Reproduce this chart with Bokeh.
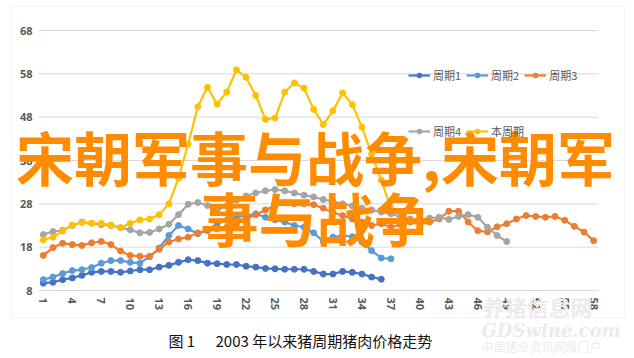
import math
from bokeh.plotting import figure
from bokeh.models import Range1d, FixedTicker, Legend, LegendItem, Label, BoxAnnotation
from bokeh.core.properties import value
from bokeh.embed import file_html
from bokeh.resources import INLINE

# ---------------- data ----------------
cats = list(range(1, 59))
x_ticks = list(range(1, 59, 3))
x_tick_labels = [str(t) for t in x_ticks]
y_ticks = [8, 18, 28, 38, 48, 58, 68]
names = ["周期1", "周期2", "周期3", "周期4", "本周期"]
colors = ["#4472C4", "#5B9BD5", "#ED7D31", "#A5A5A5", "#FFC000"]

cycle1 = [9.7, 9.9, 10.5, 10.9, 11.5, 12.2, 12.4, 12.4, 12.2, 12.5, 12.8, 12.8,
          13.4, 13.8, 14.5, 15.1, 14.9, 14.3, 14.2, 14.0, 14.0, 13.6, 13.4, 13.1,
          13.0, 12.9, 12.9, 12.9, 12.4, 11.8, 11.8, 12.4, 12.2, 11.8, 11.1, 10.6]
cycle2 = [10.5, 11.1, 11.9, 12.6, 12.8, 13.3, 14.3, 14.9, 14.9, 14.5, 14.3, 15.8,
          17.8, 20.7, 23.0, 22.2, 21.1, 21.8, 23.4, 24.2, 24.9, 25.3, 25.7, 24.9,
          24.3, 23.8, 23.0, 22.6, 21.3, 19.3, 20.3, 20.7, 20.4, 19.2, 17.2, 15.5, 15.3]
cycle3 = [16.1, 17.9, 18.9, 18.6, 18.4, 19.0, 19.3, 18.6, 17.1, 16.1, 15.9, 15.9,
          17.5, 19.2, 19.9, 20.3, 21.3, 21.9, 22.2, 22.6, 23.4, 24.5, 25.5, 26.6,
          27.6, 28.2, 28.0, 28.0, 27.8, 27.0, 26.0, 25.3, 24.5, 23.8, 23.0, 23.4,
          22.6, 23.2, 23.8, 23.8, 23.8, 24.5, 26.3, 26.3, 23.8, 21.8, 21.5, 22.7,
          23.4, 24.5, 25.3, 25.1, 24.9, 25.1, 24.2, 22.8, 21.5, 19.5]
cycle4 = [20.9, 21.6, 21.9, 23.0, 23.8, 23.5, 23.2, 23.0, 22.5, 22.0, 21.3, 21.4,
          22.2, 23.3, 25.5, 27.9, 28.3, 27.6, 26.5, 27.5, 28.8, 29.8, 30.5, 31.0,
          31.3, 31.0, 30.5, 30.0, 29.6, 29.0, 28.5, 28.0, 27.5, 27.0, 26.6, 26.1,
          25.7, 25.0, 24.5, 24.3, 24.7, 24.9, 24.4, 25.1, 25.5, 24.9, 22.6, 20.7, 19.3]
current = [19.7, 20.3, 21.7, 23.1, 23.7, 23.5, 23.5, 23.1, 22.5, 23.5, 24.3, 24.5,
           25.5, 28.0, 33.9, 41.8, 50.4, 54.9, 51.0, 53.8, 58.9, 57.2, 53.0, 47.5,
           47.8, 53.8, 55.9, 54.7, 49.8, 46.3, 49.5, 53.6, 50.9, 45.7, 39.5, 33.5, 27.0]
series = [cycle1, cycle2, cycle3, cycle4, current]

caption_fig = "图 1"
caption_text = "2003 年以来猪周期猪肉价格走势"
overlay_1 = "宋朝军事与战争,宋朝军"
overlay_2 = "事与战争"
watermark = ["养猪信息网", "GDSwine.com", "中国猪业资讯网络门户"]

# ---------------- geometry (pixels) ----------------
W, H = 632, 356
plot_left, plot_right = 38, 598      # category band edges
plot_top, plot_bottom = 30, 290      # y = 68 / y = 8
x_lo, x_hi = cats[0] - 0.5, cats[-1] + 0.5
y_lo, y_hi = y_ticks[0], y_ticks[-1]
kx = (plot_right - plot_left) / (x_hi - x_lo)
ky = (plot_bottom - plot_top) / (y_hi - y_lo)
x_range = Range1d(x_lo - plot_left / kx, x_hi + (W - plot_right) / kx)
y_range = Range1d(y_lo - (H - plot_bottom) / ky, y_hi + plot_top / ky)

p = figure(width=W, height=H, x_range=x_range, y_range=y_range,
           output_backend="svg", toolbar_location=None,
           min_border=0, min_border_left=0, min_border_right=0,
           min_border_top=0, min_border_bottom=0)
p.outline_line_color = None
p.background_fill_color = "white"
p.border_fill_color = "white"
p.grid.grid_line_color = None

# axes placed at fixed data locations
p.xaxis.fixed_location = y_lo
p.xaxis.bounds = (x_lo, x_hi)
p.xaxis.ticker = FixedTicker(ticks=x_ticks)
p.xaxis.axis_line_color = "#D9D9D9"
p.xaxis.major_tick_line_color = None
p.xaxis.minor_tick_line_color = None
p.xaxis.major_tick_in = 0
p.xaxis.major_tick_out = 0
p.xaxis.major_label_text_color = None   # rotated labels drawn below

p.yaxis.fixed_location = x_lo
p.yaxis.bounds = (y_lo, y_hi)
p.yaxis.ticker = FixedTicker(ticks=y_ticks)
p.yaxis.axis_line_color = None
p.yaxis.major_tick_line_color = None
p.yaxis.minor_tick_line_color = None
p.yaxis.major_tick_in = 0
p.yaxis.major_tick_out = 0
p.yaxis.major_label_standoff = 6
p.yaxis.major_label_text_font = "Open Sans"
p.yaxis.major_label_text_font_size = "11px"
p.yaxis.major_label_text_font_style = "bold"
p.yaxis.major_label_text_color = "#595959"

# rotated category labels (read top to bottom)
p.text(x=x_ticks, y=[y_lo] * len(x_ticks), text=x_tick_labels,
       angle=-math.pi / 2, y_offset=7, text_align="left", text_baseline="middle",
       text_font=value("Open Sans"), text_font_size="11px", text_font_style="bold",
       text_color="#595959")

# horizontal gridlines across the category band
grid_y = y_ticks[1:]
p.segment(x0=[x_lo] * len(grid_y), x1=[x_hi] * len(grid_y), y0=grid_y, y1=grid_y,
          line_color="#D9D9D9", line_width=1)

# outer chart border (screen px from bottom-left)
p.add_layout(BoxAnnotation(left=11, right=624, bottom=H - 317, top=H - 6,
                           left_units="screen", right_units="screen",
                           bottom_units="screen", top_units="screen",
                           fill_alpha=0, line_color="#D9D9D9", line_width=1))

# series
items = []
for name, col, vals in zip(names, colors, series):
    xs = cats[:len(vals)]
    rl = p.line(xs, vals, line_color=col, line_width=2.2)
    rs = p.scatter(xs, vals, size=6, fill_color=col, line_color=col)
    items.append(LegendItem(label=name, renderers=[rl, rs]))

def make_legend(its, loc):
    return Legend(items=its, location=loc, orientation="horizontal",
                  background_fill_alpha=0, border_line_color=None,
                  padding=0, margin=0, spacing=5, glyph_width=22, glyph_height=12,
                  label_standoff=3, label_height=12,
                  label_text_font="Noto Sans CJK SC", label_text_font_size="11px",
                  label_text_color="#595959")

p.add_layout(make_legend(items[:3], (408, H - 83)), "center")
p.add_layout(make_legend(items[3:], (408, H - 139)), "center")

# watermark (very faint)
for txt, xx, yy, fs, font, style in [
        (watermark[0], 482, H - 305, "22px", "Noto Sans CJK SC", "bold"),
        (watermark[1], 481, H - 330, "18px", "DejaVu Serif", "bold italic"),
        (watermark[2], 481, H - 346, "12px", "Noto Sans CJK SC", "normal")]:
    p.add_layout(Label(x=xx, y=yy, x_units="screen", y_units="screen", text=txt,
                       text_font=font, text_font_size=fs, text_font_style=style,
                       text_color="#EBEBEB", text_baseline="middle"))

# caption
p.add_layout(Label(x=168, y=H - 340, x_units="screen", y_units="screen", text=caption_fig,
                   text_font="Noto Sans CJK SC", text_font_size="15px",
                   text_color="#111111", text_baseline="middle"))
p.add_layout(Label(x=215, y=H - 340, x_units="screen", y_units="screen", text=caption_text,
                   text_font="Noto Sans CJK SC", text_font_size="15px",
                   text_color="#111111", text_baseline="middle"))

# big overlay text
p.add_layout(Label(x=315, y=H - 155, x_units="screen", y_units="screen", text=overlay_1,
                   text_font="Noto Sans CJK SC", text_font_size="58px",
                   text_font_style="bold", text_color="#FF8C00",
                   text_align="center", text_baseline="middle"))
p.add_layout(Label(x=316, y=H - 216, x_units="screen", y_units="screen", text=overlay_2,
                   text_font="Noto Sans CJK SC", text_font_size="58px",
                   text_font_style="bold", text_color="#FF8C00",
                   text_align="center", text_baseline="middle"))

open("out.html", "w").write(file_html(p, INLINE))
